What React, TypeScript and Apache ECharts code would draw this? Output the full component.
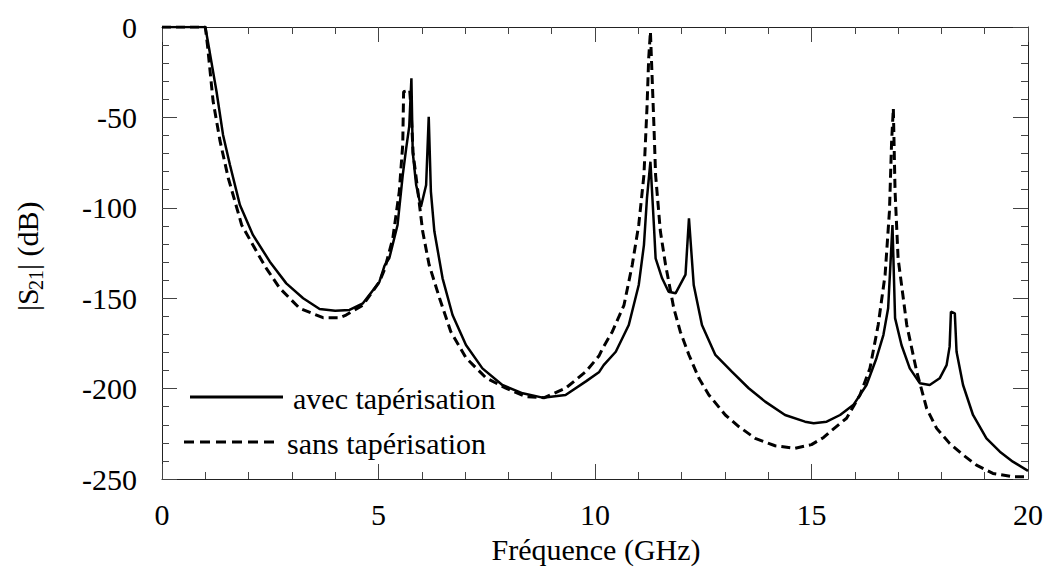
import React, { useEffect, useRef } from "react";
import * as echarts from "echarts";

const freqAvec = [0, 0.5, 1.0, 1.1, 1.26, 1.41, 1.57, 1.8, 2.1, 2.49, 2.87, 3.26, 3.64, 4.0, 4.33, 4.64, 5.02, 5.14, 5.25, 5.44, 5.56, 5.64, 5.71, 5.76, 5.79, 5.87, 5.98, 6.1, 6.16, 6.21, 6.29, 6.48, 6.71, 7.02, 7.4, 7.86, 8.33, 8.79, 9.32, 9.79, 10.09, 10.2, 10.48, 10.78, 11.01, 11.13, 11.2, 11.28, 11.36, 11.4, 11.55, 11.7, 11.86, 12.09, 12.17, 12.28, 12.47, 12.78, 13.16, 13.55, 13.93, 14.39, 14.85, 15.05, 15.35, 15.66, 15.97, 16.27, 16.5, 16.66, 16.77, 16.83, 16.87, 16.93, 17.08, 17.27, 17.5, 17.73, 17.96, 18.12, 18.19, 18.22, 18.31, 18.35, 18.5, 18.73, 19.04, 19.35, 19.65, 20];
const dbAvec = [0, 0, 0, -13.6, -35.8, -59.7, -76.3, -98.5, -115, -129.8, -141.8, -150, -156, -157, -156.5, -152.8, -141, -132, -127.8, -109.5, -81.9, -67, -55, -28.4, -69, -87.4, -99.4, -87.4, -49.6, -91, -113, -139, -159.3, -175.9, -188.8, -198, -202.6, -205, -203.5, -196, -191, -187, -179.6, -164.8, -142.7, -120.6, -94.7, -74.5, -109.5, -128, -139, -146.4, -147.3, -137, -105.8, -142.7, -164.8, -181.4, -190.6, -199.8, -207.2, -214.6, -218.3, -219.2, -218.3, -214.6, -209, -198, -183.2, -170.4, -155.6, -128, -109.5, -161, -176, -188.8, -197, -198, -194.3, -187, -176.8, -157.5, -158.4, -179.6, -198, -214.6, -227.5, -234.9, -240.4, -245.5];

const freqSans = [0, 0.5, 1.0, 1.05, 1.18, 1.34, 1.53, 1.84, 2.18, 2.41, 2.72, 3.18, 3.72, 4.1, 4.25, 4.64, 5.02, 5.14, 5.33, 5.48, 5.56, 5.58, 5.72, 5.75, 5.8, 5.91, 6.02, 6.17, 6.41, 6.67, 7.02, 7.48, 7.94, 8.4, 8.83, 9.32, 9.79, 10.09, 10.17, 10.4, 10.67, 10.86, 11.01, 11.13, 11.2, 11.24, 11.28, 11.36, 11.4, 11.51, 11.63, 11.82, 11.97, 12.17, 12.4, 12.63, 13.01, 13.32, 13.7, 14.16, 14.62, 15.0, 15.28, 15.43, 15.81, 16.12, 16.35, 16.54, 16.7, 16.8, 16.85, 16.89, 16.93, 17.0, 17.2, 17.43, 17.66, 17.89, 18.19, 18.5, 18.81, 19.19, 19.65, 20];
const dbSans = [0, 0, 0, -10, -41, -63, -83.5, -109.5, -124, -133.5, -144.5, -155.6, -160.8, -160.8, -159.3, -153.8, -141, -134, -116.9, -91, -65, -35.8, -34.8, -45, -70, -91, -113, -131.6, -150, -168.5, -183, -194, -199.8, -204.5, -205, -199.8, -190.6, -182, -178, -168.5, -153.8, -131.6, -109.5, -81.9, -45, -17.3, -2.6, -54, -82, -113, -131.6, -155.6, -168.5, -181.4, -194.3, -203.5, -214.6, -221, -227.5, -231.6, -233, -231, -227, -223.8, -216.4, -203.5, -188.8, -164.8, -137, -102, -63.4, -45, -91, -128, -164.8, -190.6, -211, -222, -230.3, -236.7, -242.3, -246.9, -248.7, -248.7];

const xTicks = { min: 0, max: 20, interval: 5 };
const yTicks = { min: -250, max: 0, interval: 50 };
const legendLabels = ["avec tapérisation", "sans tapérisation"];
const xTitle = "Fréquence (GHz)";

const FONT = "'Liberation Serif', 'Times New Roman', Times, 'DejaVu Serif', serif";

export default function App() {
  const ref = useRef<HTMLDivElement>(null);
  useEffect(() => {
    if (!ref.current) return;
    const chart = echarts.init(ref.current, null, { renderer: "svg" });
    const tickColor = "#444";
    const baseX = (pos: "bottom" | "top", labels: boolean) => ({
      type: "value",
      position: pos,
      min: xTicks.min,
      max: xTicks.max,
      interval: xTicks.interval,
      axisLine: { show: true, onZero: false, lineStyle: { color: "#222", width: 1 } },
      axisTick: { show: true, inside: true, length: 15, lineStyle: { color: tickColor, width: 1 } },
      minorTick: { show: true, splitNumber: 5, length: 7, lineStyle: { color: tickColor, width: 1 } },
      splitLine: { show: false },
      minorSplitLine: { show: false },
      axisLabel: { show: labels, fontFamily: FONT, fontSize: 30, color: "#000", margin: 20 },
    });
    const baseY = (pos: "left" | "right", labels: boolean) => ({
      type: "value",
      position: pos,
      min: yTicks.min,
      max: yTicks.max,
      interval: yTicks.interval,
      axisLine: { show: true, onZero: false, lineStyle: { color: "#222", width: 1 } },
      axisTick: { show: true, inside: true, length: 15, lineStyle: { color: tickColor, width: 1 } },
      minorTick: { show: true, splitNumber: 5, length: 7, lineStyle: { color: tickColor, width: 1 } },
      splitLine: { show: false },
      minorSplitLine: { show: false },
      axisLabel: { show: labels, fontFamily: FONT, fontSize: 30, color: "#000", margin: 25 },
    });
    const txt = (size: number) => ({ fontFamily: FONT, fontSize: size, fill: "#000" });
    chart.setOption({
      animation: false,
      backgroundColor: "#fff",
      grid: { left: 162, right: 16, top: 27, bottom: 91, containLabel: false },
      xAxis: [baseX("bottom", true), baseX("top", false)],
      yAxis: [baseY("left", true), baseY("right", false)],
      series: [
        {
          name: legendLabels[0],
          type: "line",
          xAxisIndex: 0,
          yAxisIndex: 0,
          symbol: "none",
          lineStyle: { color: "#000", width: 2.5, type: "solid" },
          data: freqAvec.map((f, i) => [f, dbAvec[i]]),
        },
        {
          name: legendLabels[1],
          type: "line",
          xAxisIndex: 0,
          yAxisIndex: 0,
          symbol: "none",
          lineStyle: { color: "#000", width: 3, type: [9, 5] },
          data: freqSans.map((f, i) => [f, dbSans[i]]),
        },
      ],
      graphic: [
        {
          type: "line",
          shape: { x1: 190, y1: 397, x2: 283, y2: 397 },
          style: { stroke: "#000", lineWidth: 3 },
        },
        {
          type: "text",
          x: 293,
          y: 398,
          style: { text: legendLabels[0], ...txt(30), verticalAlign: "middle" },
        },
        {
          type: "line",
          shape: { x1: 184, y1: 442, x2: 277, y2: 442 },
          style: { stroke: "#000", lineWidth: 3, lineDash: [10, 6] },
        },
        {
          type: "text",
          x: 287,
          y: 443,
          style: { text: legendLabels[1], ...txt(30), verticalAlign: "middle" },
        },
        {
          type: "text",
          x: 596,
          y: 549,
          style: { text: xTitle, ...txt(30), align: "center", verticalAlign: "middle" },
        },
        {
          type: "group",
          x: 27,
          y: 311,
          rotation: Math.PI / 2,
          children: [
            { type: "text", x: 0, y: 0, style: { text: "|S", ...txt(30), align: "left", verticalAlign: "middle" } },
            { type: "text", x: 21, y: 9, style: { text: "21", ...txt(20), align: "left", verticalAlign: "middle" } },
            { type: "text", x: 41, y: 0, style: { text: "| (dB)", ...txt(30), align: "left", verticalAlign: "middle" } },
          ],
        },
      ],
    });
    return () => chart.dispose();
  }, []);
  return <div ref={ref} style={{ position: "fixed", left: 0, top: 0, width: 1046, height: 570 }} />;
}
